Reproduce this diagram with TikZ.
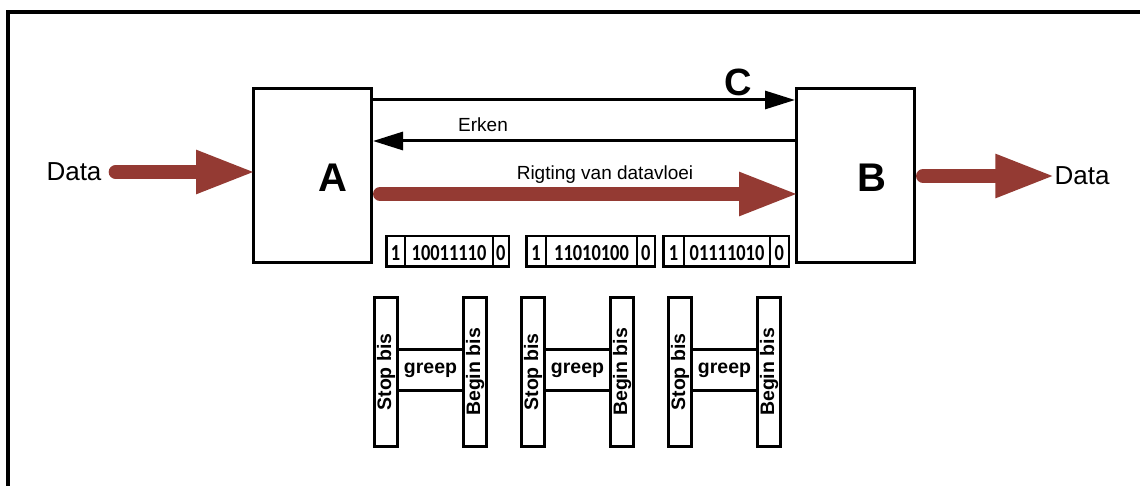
\documentclass[tikz,border=0pt]{standalone}
\usepackage{fontspec}
\usepackage{graphicx}
\setmainfont{Liberation Sans}
\newfontfamily\calib{Carlito}
\usetikzlibrary{arrows.meta}
\definecolor{brick}{RGB}{148,58,51}
\newcommand{\bitsx}[1]{\scalebox{0.8}[1]{#1}}
\begin{document}
\begin{tikzpicture}[x=1pt,y=-1pt,
  box/.style={draw, line width=3pt, minimum width=118pt, minimum height=174pt, inner sep=0},
  biglab/.style={inner sep=0, font=\bfseries\fontsize{40}{40}\selectfont},
  thinarrow/.style={line width=3pt, -{Triangle[length=30pt,width=18pt]}},
  fatarrow/.style={brick, line width=14pt, line cap=round, -{Triangle[length=60pt,width=40pt]}},
  txt/.style={inner sep=0, font=\fontsize{19}{19}\selectfont},
  datalab/.style={inner sep=0, font=\fontsize{26}{26}\selectfont},
  cell/.style={draw, line width=2.5pt, outer sep=0, inner sep=0, minimum height=30.5pt,
    text height=19pt, text depth=0pt, anchor=west, font=\calib\bfseries\fontsize{23}{23}\selectfont},
  bar/.style={draw, line width=3pt, rotate=90, minimum width=149pt, minimum height=23pt,
    inner sep=0, font=\bfseries\fontsize{19.5}{19.5}\selectfont},
  greepbox/.style={draw, line width=3pt, minimum width=66pt, minimum height=41pt,
    inner sep=0, font=\bfseries\fontsize{19.5}{19.5}\selectfont}
]
\useasboundingbox (0,0) rectangle (1140,486);
\draw[line width=4pt] (8,520) -- (8,12) -- (1160,12);

\node[box] (A) at (312.5,175.5) {};
\node[box] (B) at (855.5,175.5) {};
\node[biglab] (Alab) at (333,178) {A};
\node[biglab] (Blab) at (872,178) {B};

\draw[thinarrow] ([yshift=75.5pt]A.east) -- ([yshift=75.5pt]B.west);
\node[inner sep=0, font=\bfseries\fontsize{38}{38}\selectfont] (Clab) at (738,82) {C};
\draw[thinarrow] ([yshift=34.5pt]B.west) -- ([yshift=34.5pt]A.east);
\node[txt] (erken) at (483,125) {Erken};
\draw[fatarrow] ([xshift=7pt,yshift=-18.5pt]A.east) -- ([xshift=4pt,yshift=-18.5pt]B.west);
\node[txt] (rig) at (605,175) {Rigting van datavloei};

\node[datalab] (dataL) at (74,172) {Data};
\node[datalab] (dataR) at (1082,176) {Data};
\draw[fatarrow] ([xshift=14pt]dataL.east) -- ([xshift=4pt]A.west |- dataL.east);
\draw[fatarrow] ([xshift=7pt]B.east |- dataR.west) -- ([xshift=1pt]dataR.west);

% frames
\node[cell, minimum width=18.75pt] (f1a) at (386.25,251.5) {\bitsx{1}};
\node[cell, minimum width=88pt] (f1b) at (f1a.east) {\bitsx{10011110}};
\node[cell, minimum width=15.75pt] (f1c) at (f1b.east) {\bitsx{0}};
\node[cell, minimum width=19.75pt] (f2a) at (526.25,251.5) {\bitsx{1}};
\node[cell, minimum width=91pt] (f2b) at (f2a.east) {\bitsx{11010100}};
\node[cell, minimum width=17.75pt] (f2c) at (f2b.east) {\bitsx{0}};
\node[cell, minimum width=20.75pt] (f3a) at (663.25,251.5) {\bitsx{1}};
\node[cell, minimum width=86pt] (f3b) at (f3a.east) {\bitsx{01111010}};
\node[cell, minimum width=18.75pt] (f3c) at (f3b.east) {\bitsx{0}};

% H groups
\foreach \i/\dx in {1/0,2/147,3/294}{
  \node[greepbox] (greep\i) at (430.5+\dx,370) {greep};
  \node[bar] (stop\i) at (386+\dx,372) {Stop bis};
  \node[bar] (begin\i) at (475+\dx,372) {Begin bis};
}
\end{tikzpicture}
\end{document}
